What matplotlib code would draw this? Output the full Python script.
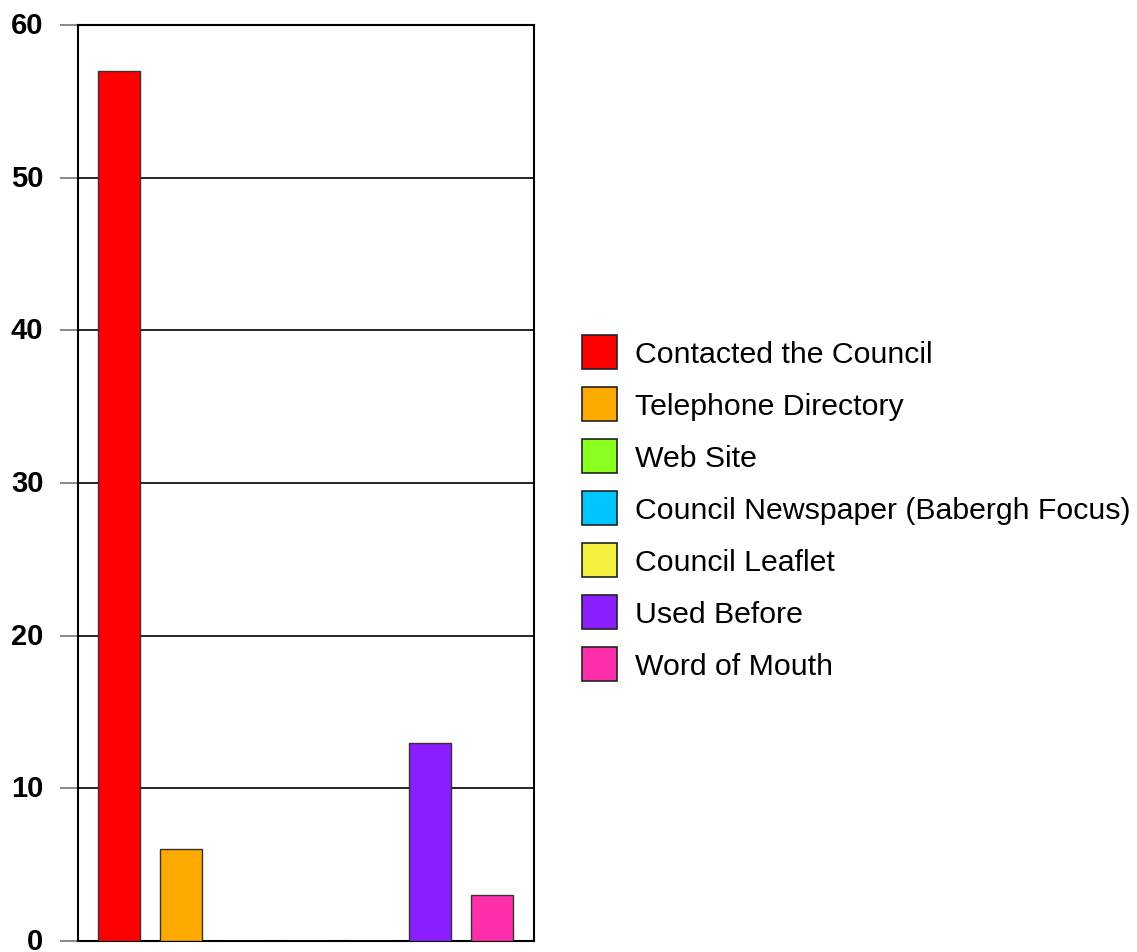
import matplotlib
matplotlib.use("Agg")
import matplotlib.pyplot as plt

categories = ["Contacted the Council", "Telephone Directory", "Web Site",
              "Council Newspaper (Babergh Focus)", "Council Leaflet",
              "Used Before", "Word of Mouth"]
values = [57, 6, 0, 0, 0, 13, 3]
colors = ["#FF0000", "#FFAA00", "#8BFF1F", "#00C4FF", "#F5F040", "#8A1EFF", "#FF2EAA"]
yticks = [0, 10, 20, 30, 40, 50, 60]

plt.rcParams['font.family'] = ['Liberation Sans', 'DejaVu Sans']

W, H = 1137, 953
fig = plt.figure(figsize=(W / 100, H / 100), dpi=100)
ax = fig.add_axes([78 / W, 1 - 942 / H, (534 - 78) / W, (942 - 26) / H])

x = list(range(len(categories)))
bars = ax.bar(x, values, width=0.675, color=colors, edgecolor="#333333",
              linewidth=1.0, zorder=3)

ax.set_xlim(-0.66, 6.676)
ax.set_ylim(0, 60)
ax.set_yticks(yticks)
ax.set_yticklabels([str(t) for t in yticks], fontsize=21, fontweight='bold')
ax.set_xticks([])
ax.tick_params(axis='y', length=13, width=1.2, color="#777777", pad=12)
for lab in ax.get_yticklabels():
    lab.set_verticalalignment('center')
ax.yaxis.grid(True, color='black', linewidth=1.2, zorder=1)
for s in ax.spines.values():
    s.set_color('black')
    s.set_linewidth(1.5)

handles = [plt.Rectangle((0, 0), 1, 1, facecolor=c, edgecolor="#222222", linewidth=1.2)
           for c in colors]
leg = fig.legend(handles, categories, loc='upper left',
                 bbox_to_anchor=(582 / W, 1 - 336 / H),
                 frameon=False, fontsize=21.8, handlelength=1.15, handleheight=1.35,
                 handletextpad=0.6, labelspacing=0.595, borderpad=0, borderaxespad=0)

fig.savefig("out.png", dpi=100, facecolor='white')
